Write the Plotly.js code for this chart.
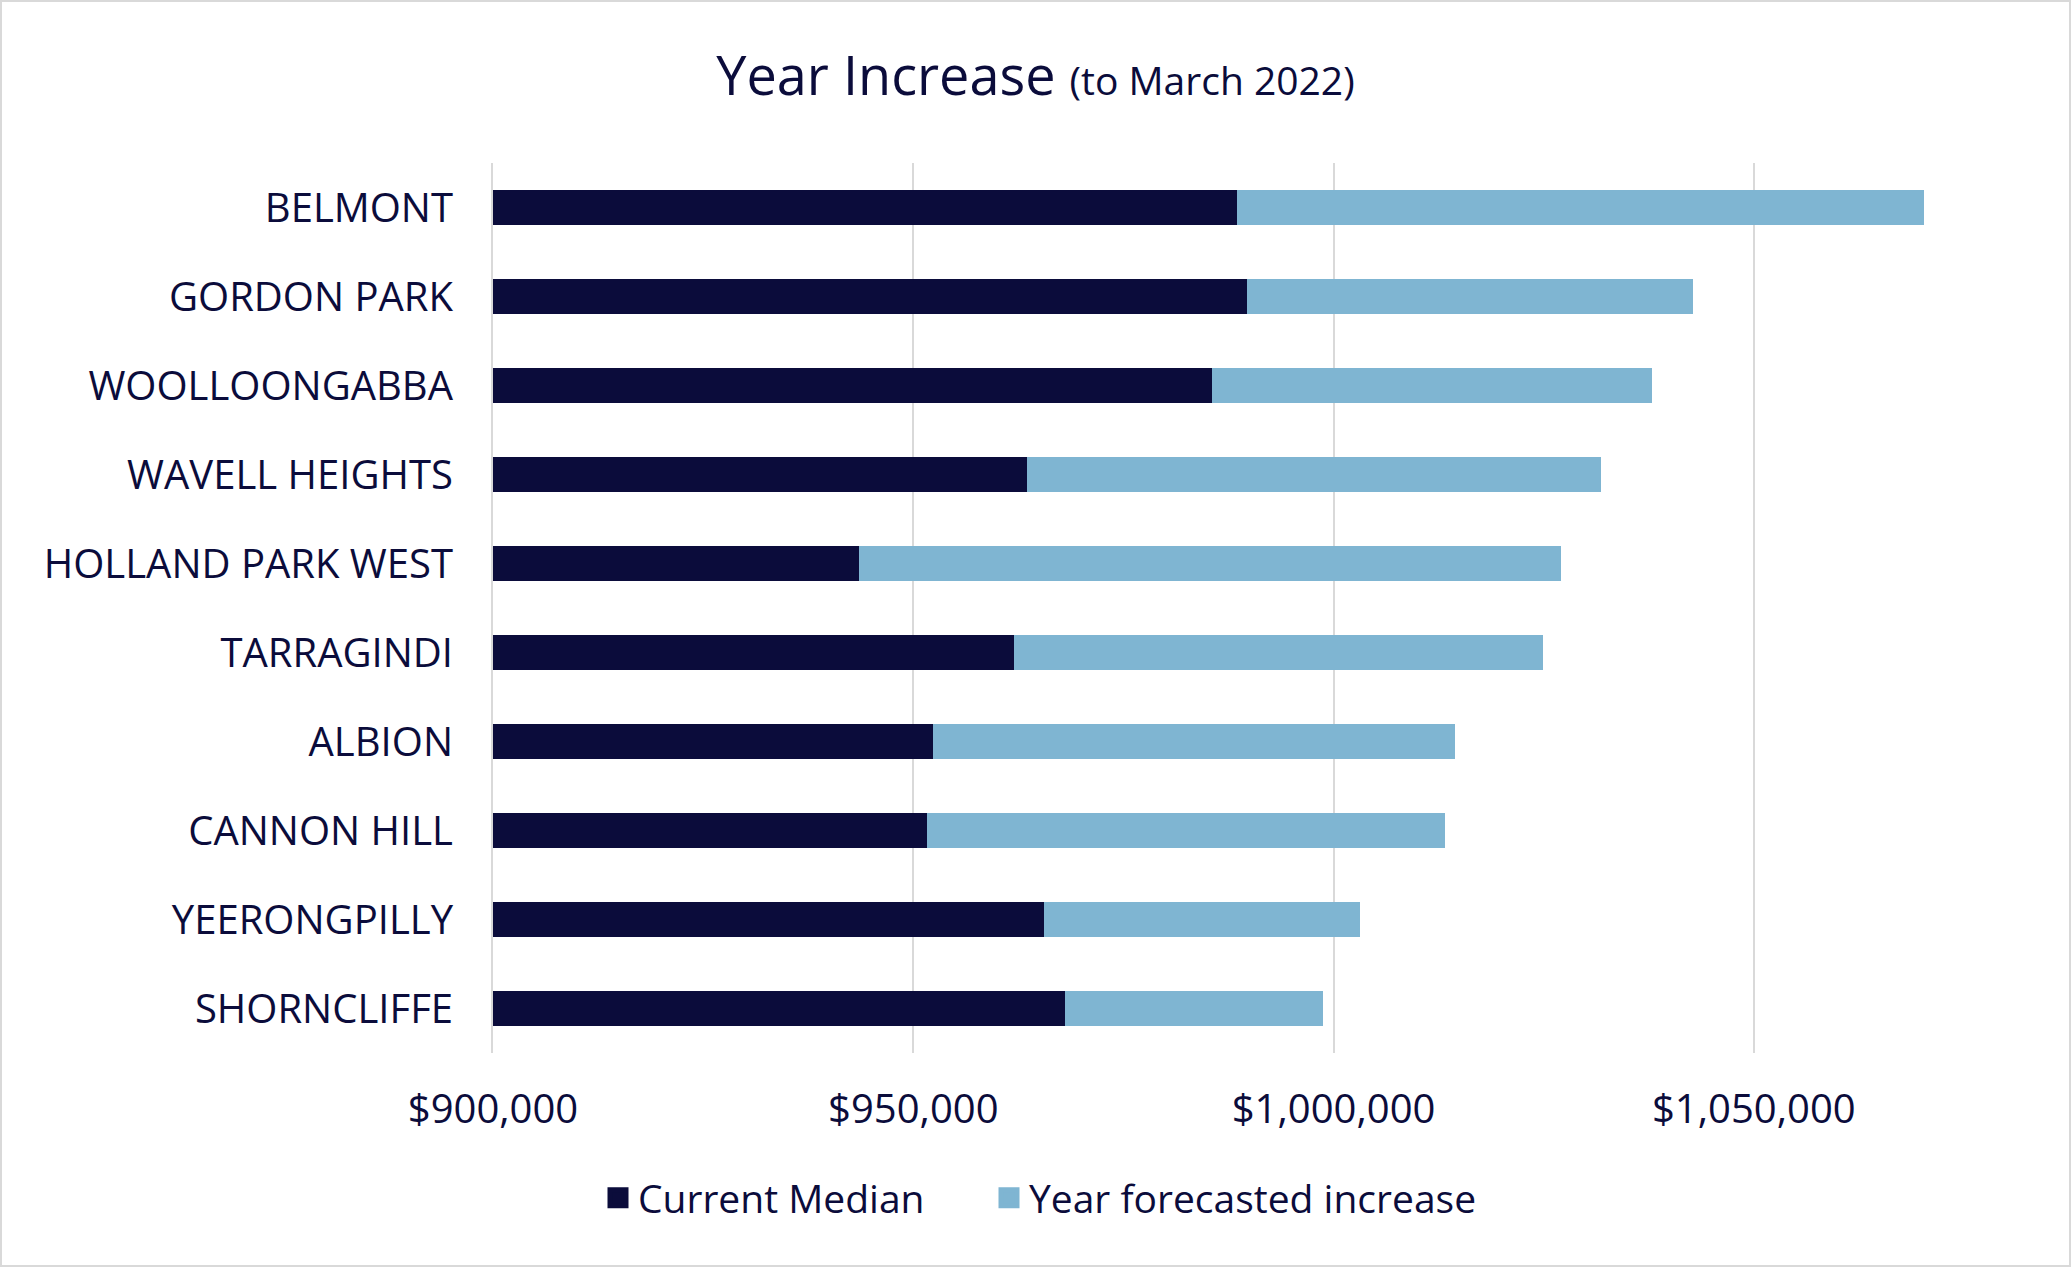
<!DOCTYPE html>
<html>
<head>
<meta charset="utf-8">
<script src="https://cdn.plot.ly/plotly-3.0.1.min.js"></script>
<style>
  html, body { margin: 0; padding: 0; background: #ffffff; }
  #wrap { position: relative; width: 2071px; height: 1267px; }
  #chart { position: absolute; left: 0; top: 0; width: 2071px; height: 1267px; }
  #frame { position: absolute; left: 0; top: 0; width: 2071px; height: 1267px; box-sizing: border-box; border: 2px solid #d9d9d9; pointer-events: none; }
</style>
</head>
<body>
<div id="wrap">
  <div id="chart"></div>
  <div id="frame"></div>
</div>
<script>
// ---- Data ----
const categories = ['BELMONT', 'GORDON PARK', 'WOOLLOONGABBA', 'WAVELL HEIGHTS', 'HOLLAND PARK WEST',
                    'TARRAGINDI', 'ALBION', 'CANNON HILL', 'YEERONGPILLY', 'SHORNCLIFFE'];
const currentMedian = [988500, 989700, 985500, 963500, 943600, 962000, 952300, 951600, 965500, 968000];
const forecastIncrease = [81800, 53050, 52350, 68300, 83450, 62900, 62100, 61650, 37600, 30700];
const seriesNames = ['Current Median', 'Year forecasted increase'];
const xTickVals = [900000, 950000, 1000000, 1050000];
const xTickText = ['$900,000', '$950,000', '$1,000,000', '$1,050,000'];

const navy = '#0b0c3b';
const lightBlue = '#7fb5d2';
const fontFam = '"Open Sans", "Noto Sans", sans-serif';

const traces = [
  {
    type: 'bar', orientation: 'h', name: seriesNames[0],
    y: categories, x: currentMedian,
    marker: { color: navy }, showlegend: false, legendgroup: 'a', hoverinfo: 'skip'
  },
  {
    type: 'bar', orientation: 'h', name: seriesNames[1],
    y: categories, x: forecastIncrease,
    marker: { color: lightBlue }, showlegend: false, legendgroup: 'b', hoverinfo: 'skip'
  },
  {
    type: 'scatter', mode: 'markers', name: seriesNames[0], legendgroup: 'a', legend: 'legend',
    x: [null], y: [null],
    marker: { symbol: 'square', size: 16, color: navy, line: { color: navy, width: 5 } }
  },
  {
    type: 'scatter', mode: 'markers', name: seriesNames[1], legendgroup: 'b', legend: 'legend2',
    x: [null], y: [null],
    marker: { symbol: 'square', size: 16, color: lightBlue, line: { color: lightBlue, width: 5 } }
  }
];

const legendCommon = {
  orientation: 'h',
  yanchor: 'middle',
  y: -(1198 - 1053) / 890,
  xanchor: 'left',
  itemsizing: 'trace',
  font: { family: fontFam, size: 39, color: navy },
  bgcolor: 'rgba(0,0,0,0)', borderwidth: 0
};

const layout = {
  width: 2071, height: 1267,
  margin: { l: 493, r: 65, t: 163, b: 214, pad: 0 },
  paper_bgcolor: '#ffffff', plot_bgcolor: '#ffffff',
  font: { family: fontFam, color: navy, size: 38 },
  barmode: 'stack',
  bargap: 0.606,
  title: {
    text: 'Year Increase <span style="font-size:39px">(to March 2022)</span>',
    font: { family: fontFam, size: 54, color: navy },
    x: 0.5, xref: 'container', xanchor: 'center',
    y: 1 - 76 / 1267, yref: 'container', yanchor: 'middle'
  },
  xaxis: {
    range: [900000, 1080000],
    tickvals: xTickVals, ticktext: xTickText,
    showgrid: true, gridcolor: '#d9d9d9', gridwidth: 2,
    zeroline: false, showline: false,
    ticks: 'outside', ticklen: 21, tickcolor: 'rgba(0,0,0,0)',
    tickfont: { family: fontFam, size: 40, color: navy },
    fixedrange: true
  },
  yaxis: {
    type: 'category',
    categoryorder: 'array', categoryarray: categories,
    range: [9.5, -0.5],
    showgrid: false, zeroline: false,
    showline: true, linecolor: '#d9d9d9', linewidth: 2,
    ticks: 'outside', ticklen: 30, tickcolor: 'rgba(0,0,0,0)',
    tickfont: { family: fontFam, size: 40, color: navy },
    fixedrange: true
  },
  showlegend: true,
  legend: Object.assign({}, legendCommon, { x: (598 - 493) / 1513 }),
  legend2: Object.assign({}, legendCommon, { x: (989 - 493) / 1513 })
};

Plotly.newPlot('chart', traces, layout, { staticPlot: true, displayModeBar: false });
</script>
</body>
</html>
